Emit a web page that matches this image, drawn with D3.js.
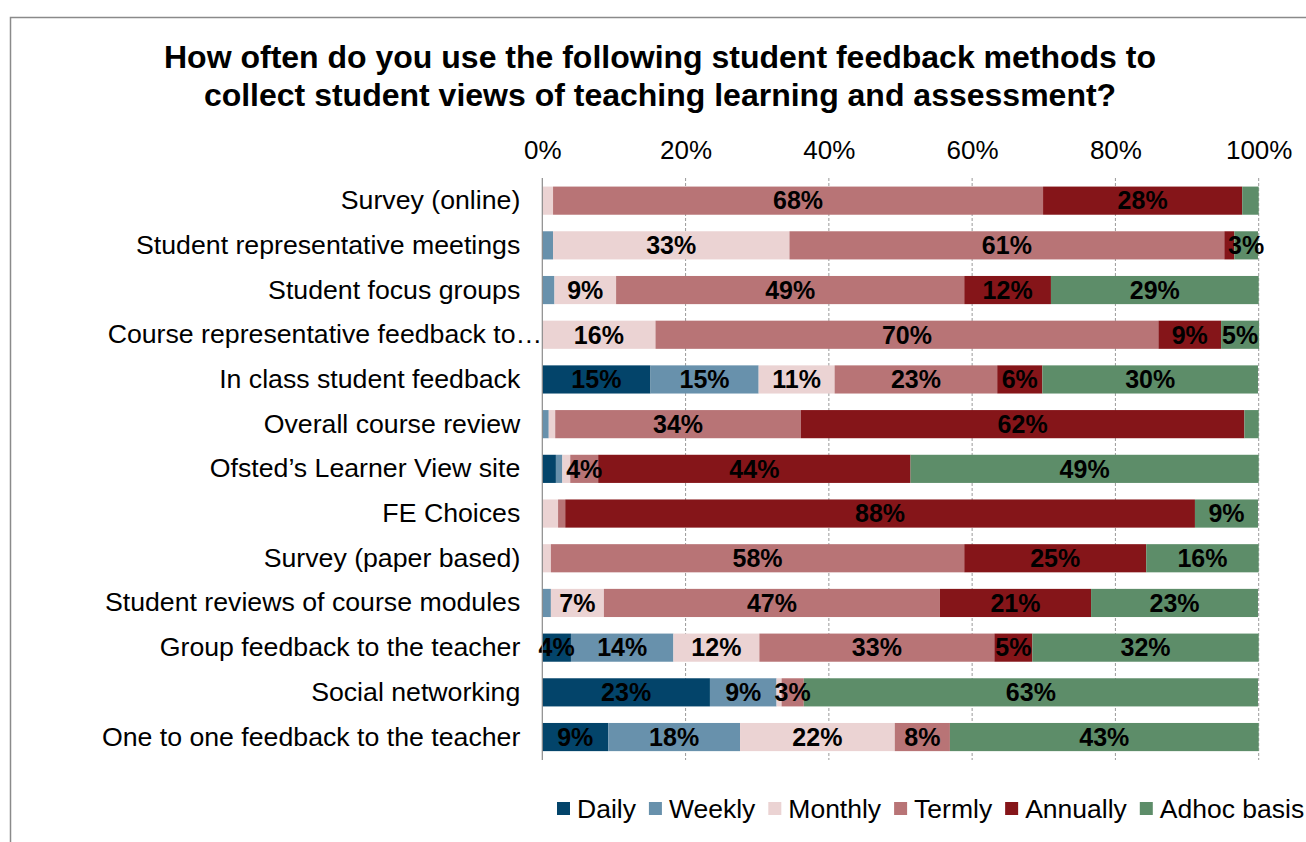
<!DOCTYPE html>
<html>
<head>
<meta charset="utf-8">
<script src="https://cdn.jsdelivr.net/npm/d3@7"></script>
<style>
  body { margin: 0; background: #fff; }
  svg { display: block; font-family: "Liberation Sans", Arial, sans-serif; }
</style>
</head>
<body>
<svg id="chart" width="1306" height="842"></svg>
<script>
const titleLines = [
  "How often do you use the following student feedback methods to",
  "collect student views of teaching learning and assessment?"
];
const categories = [
  "Survey (online)",
  "Student representative meetings",
  "Student focus groups",
  "Course representative feedback to…",
  "In class student feedback",
  "Overall course review",
  "Ofsted’s Learner View site",
  "FE Choices",
  "Survey (paper based)",
  "Student reviews of course modules",
  "Group feedback to the teacher",
  "Social networking",
  "One to one feedback to the teacher"
];
const seriesNames = ["Daily", "Weekly", "Monthly", "Termly", "Annually", "Adhoc basis"];
const colors = ["#03446A", "#6891AC", "#EBD3D3", "#B87476", "#851519", "#5D8D69"];

// percentages per category, in series order
const daily    = [0,   0,   0,    0,    15.1, 0,    1.9,  0,    0,    0,    4.0,  23.4, 9.2];
const weekly   = [0,   1.5, 1.7,  0,    15.1, 0.9,  0.9,  0,    0,    1.2,  14.3, 9.3,  18.4];
const monthly  = [1.5, 33.0, 8.6, 15.8, 10.6, 0.9,  1.1,  2.2,  1.2,  7.4,  12.0, 0.7,  21.6];
const termly   = [68.4, 60.7, 48.6, 70.2, 22.7, 34.3, 3.9, 1.0,  57.7, 46.9, 32.8, 3.1,  7.7];
const annually = [27.8, 1.4, 12.1, 8.75, 6.3, 61.9, 43.6, 87.9, 25.4, 21.1, 5.3,  0,    0];
const adhoc    = [2.3, 3.3, 29.0, 5.3,  30.1, 2.0,  48.6, 8.8,  15.7, 23.3, 31.6, 63.4, 43.1];
const tickValues = [0, 20, 40, 60, 80, 100];

const seriesValues = [daily, weekly, monthly, termly, annually, adhoc];
const rows = categories.map((c, i) => {
  const o = { category: c };
  seriesNames.forEach((s, j) => o[s] = seriesValues[j][i]);
  return o;
});

const svg = d3.select("#chart");

// frame
svg.append("rect")
  .attr("x", 10.5).attr("y", 17.5)
  .attr("width", 1320).attr("height", 860)
  .attr("fill", "none").attr("stroke", "#8a8a8a").attr("stroke-width", 1.5);

// title
svg.append("text")
  .attr("x", 660).attr("y", 68)
  .attr("text-anchor", "middle")
  .attr("font-size", 32).attr("font-weight", "bold").attr("fill", "#000")
  .selectAll("tspan").data(titleLines).join("tspan")
  .attr("x", 660).attr("dy", (d, i) => i === 0 ? 0 : 38)
  .text(d => d);

const x = d3.scaleLinear().domain([0, 100]).range([542.3, 1258.7]);
const y = d3.scaleBand().domain(categories).range([178.3, 759.4])
  .paddingInner(0.37).paddingOuter(0.185);

// gridlines
svg.append("g").selectAll("line").data(tickValues.slice(1)).join("line")
  .attr("x1", d => x(d)).attr("x2", d => x(d))
  .attr("y1", 178).attr("y2", 760)
  .attr("stroke", "#9a9a9a").attr("stroke-width", 1)
  .attr("stroke-dasharray", "3,2");

// stacked bars
const stack = d3.stack().keys(seriesNames);
const stacked = stack(rows);

const layers = svg.append("g").selectAll("g").data(stacked).join("g")
  .attr("fill", (d, i) => colors[i]);
layers.selectAll("rect").data(d => d).join("rect")
  .attr("x", d => x(d[0]))
  .attr("width", d => Math.max(0, x(d[1]) - x(d[0])))
  .attr("y", d => y(d.data.category))
  .attr("height", y.bandwidth());

// value labels
const labelG = svg.append("g");
stacked.forEach(layer => {
  layer.forEach(d => {
    const v = d[1] - d[0];
    if (Math.round(v) >= 3) {
      labelG.append("text")
        .attr("x", (x(d[0]) + x(d[1])) / 2)
        .attr("y", y(d.data.category) + y.bandwidth() / 2)
        .attr("dy", "0.35em")
        .attr("text-anchor", "middle")
        .attr("font-size", 25).attr("font-weight", "bold").attr("fill", "#000")
        .text(Math.round(v) + "%");
    }
  });
});

// 0% axis line
svg.append("line")
  .attr("x1", x(0)).attr("x2", x(0)).attr("y1", 178).attr("y2", 760)
  .attr("stroke", "#8a8a8a").attr("stroke-width", 1.2);

// top axis
const xAxis = d3.axisTop(x).tickValues(tickValues).tickSize(0).tickPadding(10)
  .tickFormat(d => d + "%");
const gx = svg.append("g").attr("transform", "translate(0,169)").call(xAxis);
gx.select(".domain").remove();
gx.selectAll("text").attr("font-size", 26).attr("fill", "#000")
  .attr("font-family", "'Liberation Sans', Arial, sans-serif");

// left axis (categories)
const yAxis = d3.axisLeft(y).tickSize(0).tickPadding(22);
const gy = svg.append("g").attr("transform", `translate(${x(0)},0)`).call(yAxis);
gy.select(".domain").remove();
gy.selectAll("text").attr("font-size", 26.7).attr("fill", "#000")
  .attr("font-family", "'Liberation Sans', Arial, sans-serif")
  .attr("x", d => d.endsWith("…") ? 0 : -22);

// legend
const legend = svg.append("g");
let lx = 557;
seriesNames.forEach((s, i) => {
  legend.append("rect")
    .attr("x", lx).attr("y", 802).attr("width", 13).attr("height", 13)
    .attr("fill", colors[i]);
  const t = legend.append("text")
    .attr("x", lx + 20).attr("y", 818)
    .attr("font-size", 26.5).attr("fill", "#000")
    .text(s);
  lx = lx + 20 + t.node().getComputedTextLength() + 13;
});
</script>
</body>
</html>
